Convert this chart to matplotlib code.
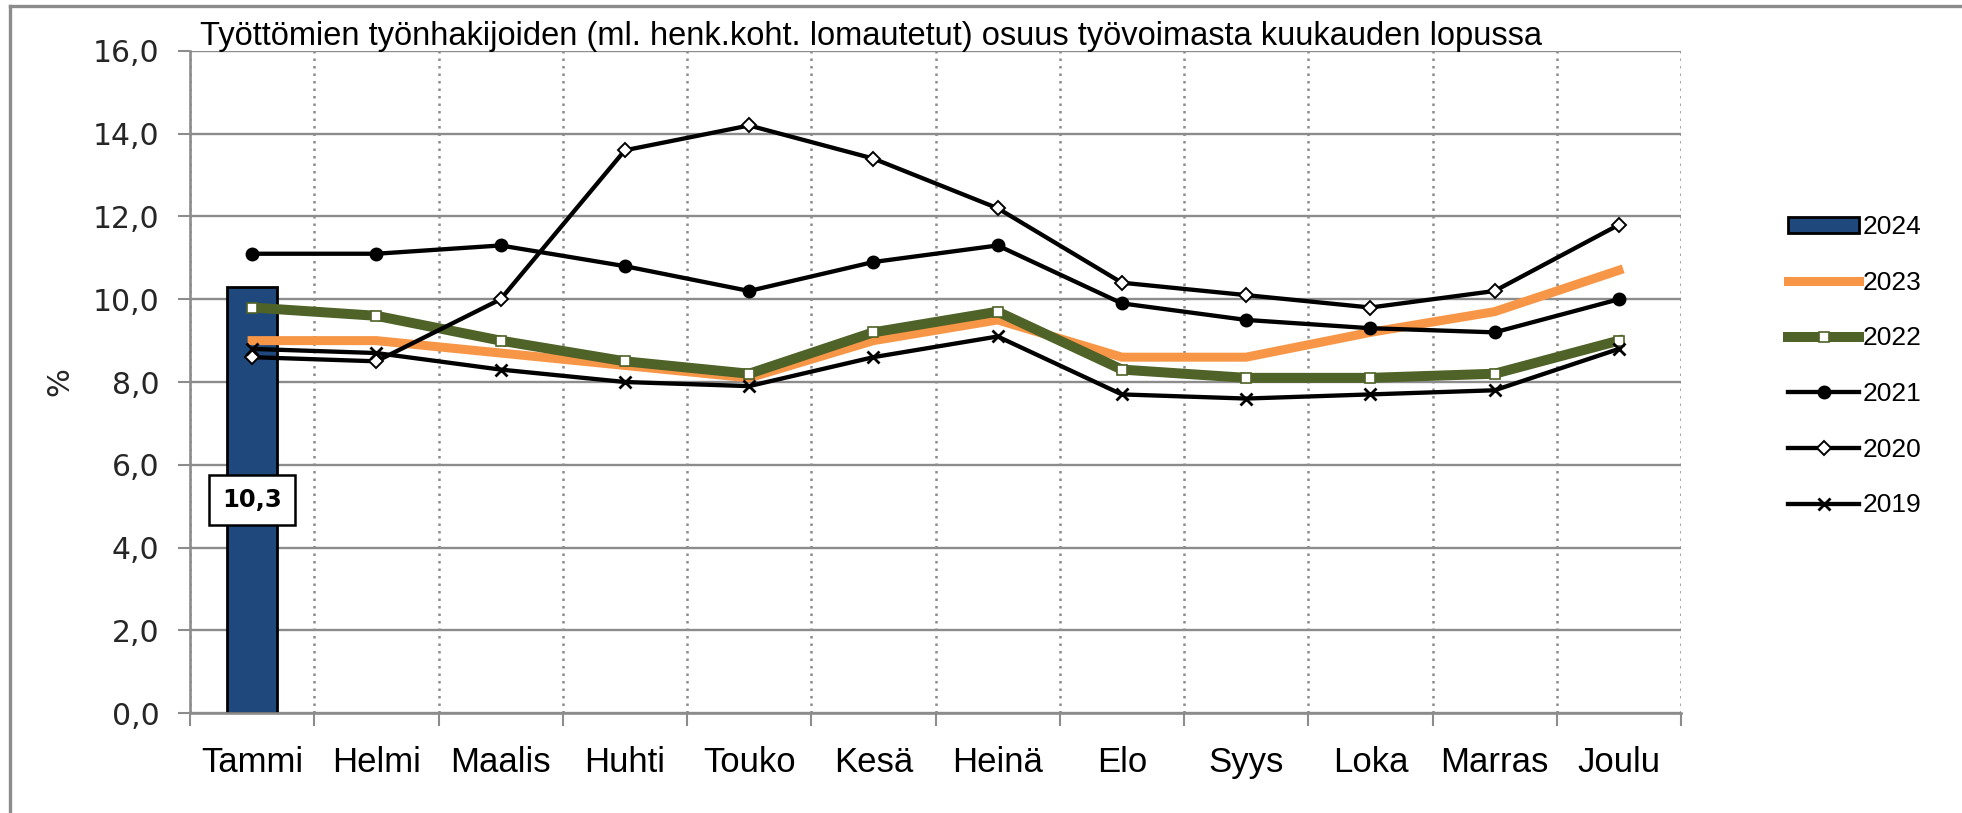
import matplotlib
matplotlib.use("Agg")
import matplotlib.pyplot as plt
from matplotlib.lines import Line2D
from matplotlib.ticker import FixedLocator, FuncFormatter

# ---------------- data ----------------
months = ['Tammi', 'Helmi', 'Maalis', 'Huhti', 'Touko', 'Kesä', 'Heinä',
          'Elo', 'Syys', 'Loka', 'Marras', 'Joulu']
y2024 = [10.3]
y2023 = [9.0, 9.0, 8.7, 8.4, 8.1, 9.0, 9.5, 8.6, 8.6, 9.2, 9.7, 10.7]
y2022 = [9.8, 9.6, 9.0, 8.5, 8.2, 9.2, 9.7, 8.3, 8.1, 8.1, 8.2, 9.0]
y2021 = [11.1, 11.1, 11.3, 10.8, 10.2, 10.9, 11.3, 9.9, 9.5, 9.3, 9.2, 10.0]
y2020 = [8.6, 8.5, 10.0, 13.6, 14.2, 13.4, 12.2, 10.4, 10.1, 9.8, 10.2, 11.8]
y2019 = [8.8, 8.7, 8.3, 8.0, 7.9, 8.6, 9.1, 7.7, 7.6, 7.7, 7.8, 8.8]
yticks = [0, 2, 4, 6, 8, 10, 12, 14, 16]
title = "Työttömien työnhakijoiden (ml. henk.koht. lomautetut) osuus työvoimasta kuukauden lopussa"

# ---------------- figure ----------------
W, H, DPI = 1962, 813, 100
fig = plt.figure(figsize=(W / DPI, H / DPI), dpi=DPI)
fig.patch.set_facecolor('white')

L, R, T, B = 190, 1681, 51, 713
ax = fig.add_axes([L / W, 1 - B / H, (R - L) / W, (B - T) / H])

x = list(range(len(months)))
GRID = '#8c8c8c'
TXT = '#262626'

h24 = ax.bar([0], y2024, width=0.4, color='#1F497D', edgecolor='black', linewidth=2.0,
             label='2024', zorder=2)
h23, = ax.plot(x, y2023, color='#F79646', lw=6.5, label='2023', zorder=3)
h22, = ax.plot(x, y2022, color='#4F6228', lw=7.2, marker='s', ms=7, mfc='white',
               mec='#4F6228', mew=1.2, label='2022', zorder=4)
h21, = ax.plot(x, y2021, color='black', lw=3.1, marker='o', ms=9, mfc='black',
               mec='black', label='2021', zorder=5)
h20, = ax.plot(x, y2020, color='black', lw=3.1, marker='D', ms=7.5, mfc='white',
               mec='black', mew=1.4, label='2020', zorder=5)
h19, = ax.plot(x, y2019, color='black', lw=3.1, marker='x', ms=8.5, mew=2.0,
               label='2019', zorder=5)

# data label
ax.text(0, y2024[0] / 2, f"{y2024[0]:.1f}".replace('.', ','), ha='center', va='center',
        fontsize=17.5, fontweight='bold', family='DejaVu Sans', color='black', zorder=6,
        bbox=dict(boxstyle='square,pad=0.55', fc='white', ec='black', lw=1.8))

# axes
ax.set_xlim(-0.5, len(months) - 0.5)
ax.set_ylim(0, 16)
ax.xaxis.set_major_locator(FixedLocator([i - 0.5 for i in range(len(months) + 1)]))
ax.xaxis.set_major_formatter(FuncFormatter(lambda v, p: ''))
ax.xaxis.set_minor_locator(FixedLocator(x))
ax.set_xticklabels(months, minor=True)
ax.tick_params(axis='x', which='major', direction='out', length=9, width=1.5, color=GRID)
ax.tick_params(axis='x', which='minor', length=0, pad=24, labelsize=25)
for lab in ax.get_xticklabels(minor=True):
    lab.set_family('Liberation Sans')
    lab.set_color('black')

ax.yaxis.set_major_locator(FixedLocator(yticks))
ax.yaxis.set_major_formatter(FuncFormatter(lambda v, p: f"{v:.1f}".replace('.', ',')))
ax.tick_params(axis='y', direction='out', length=9, width=1.5, color=GRID, pad=13,
               labelsize=21.5)
for lab in ax.get_yticklabels():
    lab.set_family('DejaVu Sans')
    lab.set_color(TXT)

ax.grid(axis='y', color=GRID, lw=1.7, ls='-', zorder=0)
ax.grid(axis='x', which='major', color=GRID, lw=1.8, ls=(0, (1, 2.0)), zorder=0)
ax.set_axisbelow(True)
for s in ['top', 'right']:
    ax.spines[s].set_visible(False)
for s in ['left', 'bottom']:
    ax.spines[s].set_color(GRID)
    ax.spines[s].set_linewidth(1.9)

ax.set_ylabel('%', fontsize=22, family='DejaVu Sans', color=TXT, labelpad=13)

# legend
handles = [h24, h23, h22, h21, h20, h19]
labels = ['2024', '2023', '2022', '2021', '2020', '2019']
leg = fig.legend(handles, labels, loc='upper left', bbox_to_anchor=(1788 / W, 1 - 215 / H),
                 frameon=False, prop={'family': 'Liberation Sans', 'size': 19},
                 handlelength=2.7, handleheight=0.55, handletextpad=0.12,
                 labelspacing=1.2, borderpad=0, borderaxespad=0)

# title fitted to width
t = fig.text(200 / W, 1 - 45 / H, title, ha='left', va='baseline',
             family='Liberation Sans', fontsize=22, color='black')
fig.canvas.draw()
bb = t.get_window_extent()
t.set_fontsize(22 * 1338 / bb.width)

# outer border (left and top)
fig.add_artist(Line2D([10 / W, 10 / W], [0, 1 - 6 / H], transform=fig.transFigure,
                      color='#8c8c8c', lw=2.4))
fig.add_artist(Line2D([10 / W, 1], [1 - 6 / H, 1 - 6 / H], transform=fig.transFigure,
                      color='#8c8c8c', lw=2.4))

fig.savefig('out.png', dpi=DPI)
